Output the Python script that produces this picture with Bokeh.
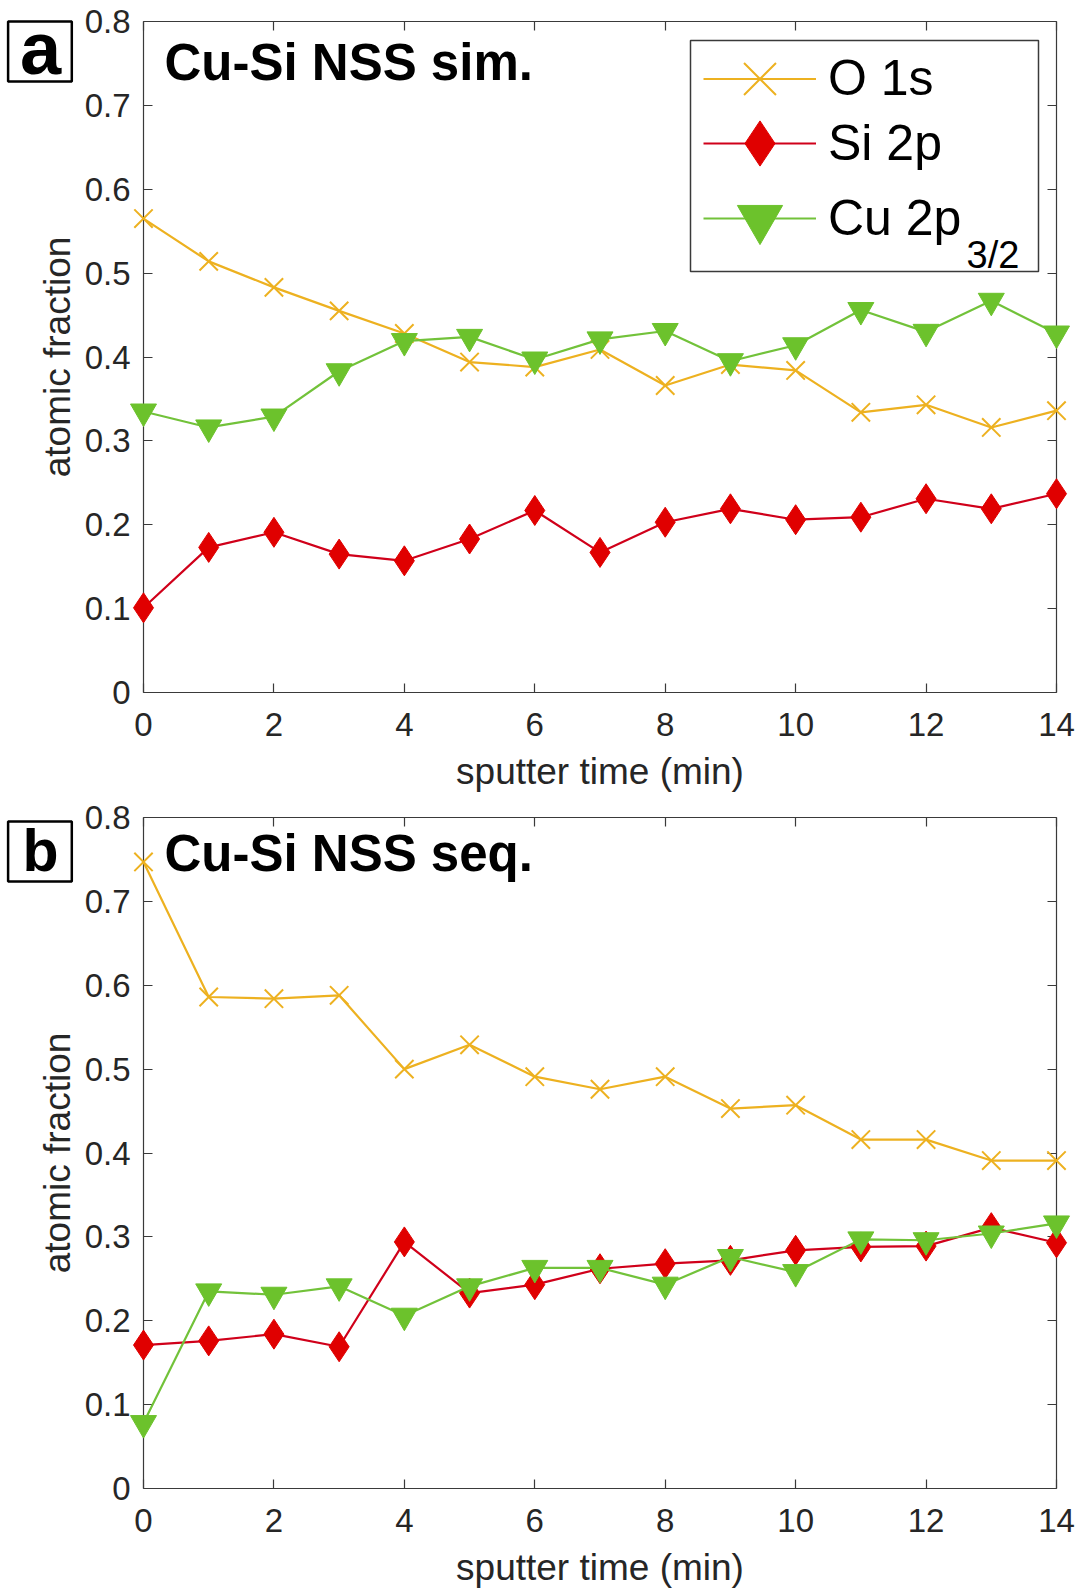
from bokeh.plotting import figure
from bokeh.models import (Range1d, LinearAxis, FixedTicker, Label, BoxAnnotation,
                          Legend, LegendItem, CustomLabelingPolicy)
from bokeh.embed import file_html
from bokeh.resources import INLINE

# ---------------- data ----------------
TIME = list(range(15))

O1S_SIM = [0.565, 0.514, 0.483, 0.455, 0.428, 0.394, 0.388, 0.409, 0.366, 0.391, 0.384, 0.334, 0.343, 0.316, 0.336]
SI2P_SIM = [0.101, 0.173, 0.191, 0.165, 0.157, 0.183, 0.217, 0.167, 0.203, 0.219, 0.206, 0.209, 0.231, 0.219, 0.237]
CU2P_SIM = [0.335, 0.316, 0.329, 0.383, 0.419, 0.424, 0.397, 0.421, 0.431, 0.395, 0.414, 0.456, 0.430, 0.467, 0.428]

O1S_SEQ = [0.747, 0.586, 0.584, 0.588, 0.500, 0.529, 0.491, 0.476, 0.491, 0.453, 0.457, 0.416, 0.416, 0.391, 0.391]
SI2P_SEQ = [0.171, 0.176, 0.184, 0.169, 0.294, 0.233, 0.243, 0.262, 0.268, 0.272, 0.284, 0.288, 0.289, 0.311, 0.293]
CU2P_SEQ = [0.078, 0.235, 0.231, 0.241, 0.206, 0.241, 0.263, 0.263, 0.243, 0.276, 0.258, 0.297, 0.296, 0.304, 0.316]

XMIN, XMAX = 0, 14
YMIN, YMAX = 0, 0.8
XTICKS = [0, 2, 4, 6, 8, 10, 12, 14]
YTICKS = [0, 0.1, 0.2, 0.3, 0.4, 0.5, 0.6, 0.7, 0.8]
YTICK_LABELS = ["0", "0.1", "0.2", "0.3", "0.4", "0.5", "0.6", "0.7", "0.8"]

SERIES_NAMES = ["O 1s", "Si 2p", "Cu 2p"]
CU_SUBSCRIPT = "3/2"
PANEL_LETTERS = ["a", "b"]
PANEL_TITLES = ["Cu-Si NSS sim.", "Cu-Si NSS seq."]
X_LABEL = "sputter time (min)"
Y_LABEL = "atomic fraction"

# ---------------- layout / style ----------------
FONT = "Liberation Sans"
AXC = "#3a3a3a"
TXT = "#262626"
O_COL = "#EDB120"
SI_LINE = "#d0001a"
SI_FILL = "#e00000"
CU_LINE = "#72c23a"
CU_FILL = "#6cc22c"

W, H = 1076, 1588
X0_PX, X1_PX = 143, 1056                 # page x of t = XMIN / XMAX
PANEL_PX = [(21, 692), (817, 1488)]       # page y of YMAX / YMIN for panels a, b

ux = (X1_PX - X0_PX) / (XMAX - XMIN)
x_range = Range1d(XMIN - X0_PX / ux, XMAX + (W - X1_PX) / ux)


def y_range_for(top_px, bottom_px):
    uy = (bottom_px - top_px) / (YMAX - YMIN)
    return Range1d(YMIN - (H - bottom_px) / uy, YMAX + top_px / uy)


p = figure(width=W, height=H, frame_width=W, frame_height=H,
           x_range=x_range, y_range=y_range_for(*PANEL_PX[0]),
           x_axis_location=None, y_axis_location=None,
           output_backend="svg", toolbar_location=None, min_border=0)
p.extra_y_ranges = {"b": y_range_for(*PANEL_PX[1])}
p.grid.visible = False
p.outline_line_color = None
p.background_fill_color = "white"
p.border_fill_color = "white"


def sy(page_y):
    return H - page_y


def style_axis(ax, hidden):
    ax.axis_line_color = AXC
    ax.axis_line_width = 1.2
    ax.major_tick_line_color = AXC
    ax.major_tick_line_width = 1.2
    ax.major_tick_in = 9
    ax.major_tick_out = 0
    ax.minor_tick_line_color = None
    ax.level = "underlay"
    if hidden:
        ax.major_label_policy = CustomLabelingPolicy(code="return new Set()")
        ax.major_label_text_font_size = "1px"
        ax.major_label_standoff = 0
    else:
        ax.major_label_text_font = FONT
        ax.major_label_text_font_size = "33px"
        ax.major_label_text_color = TXT
        ax.axis_label_text_font = FONT
        ax.axis_label_text_font_size = "37px"
        ax.axis_label_text_font_style = "normal"
        ax.axis_label_text_color = TXT


def add_axes(rname, first):
    left = LinearAxis(y_range_name=rname, fixed_location=XMIN, bounds=(YMIN, YMAX),
                      ticker=FixedTicker(ticks=YTICKS), axis_label=Y_LABEL,
                      major_label_overrides={t: l for t, l in zip(YTICKS, YTICK_LABELS)})
    style_axis(left, False)
    left.major_label_standoff = 13
    left.axis_label_standoff = 4
    p.add_layout(left, "left")

    right = LinearAxis(y_range_name=rname, fixed_location=XMAX, bounds=(YMIN, YMAX),
                       ticker=FixedTicker(ticks=YTICKS))
    style_axis(right, True)
    p.add_layout(right, "right")

    bottom = LinearAxis(y_range_name=rname, fixed_location=YMIN, bounds=(XMIN, XMAX),
                        ticker=FixedTicker(ticks=XTICKS), axis_label=X_LABEL)
    style_axis(bottom, False)
    bottom.major_label_standoff = 20
    bottom.axis_label_standoff = 12
    p.add_layout(bottom, "below")

    top = LinearAxis(y_range_name=rname, fixed_location=YMAX, bounds=(XMIN, XMAX),
                     ticker=FixedTicker(ticks=XTICKS))
    style_axis(top, True)
    p.add_layout(top, "above")


def add_series(o, si, cu, rname):
    kw = {} if rname is None else {"y_range_name": rname}
    lo = p.line(TIME, o, line_color=O_COL, line_width=2.2, **kw)
    so = p.scatter(TIME, o, marker="x", size=26, line_color=O_COL, line_width=2, **kw)
    ls = p.line(TIME, si, line_color=SI_LINE, line_width=2.2, **kw)
    ss = p.scatter(TIME, si, marker="diamond", size=30, fill_color=SI_FILL,
                   line_color=SI_FILL, line_width=1, **kw)
    lc = p.line(TIME, cu, line_color=CU_LINE, line_width=2.2, **kw)
    sc = p.scatter(TIME, cu, marker="inverted_triangle", size=26, fill_color=CU_FILL,
                   line_color=CU_FILL, line_width=1, **kw)
    return (lo, so), (ls, ss), (lc, sc)


def add_decor(letter, title, box_top, letter_size, letter_y, title_y):
    p.add_layout(BoxAnnotation(left=7.6, right=71.3, top=sy(box_top), bottom=sy(box_top + 60),
                               left_units="screen", right_units="screen",
                               top_units="screen", bottom_units="screen",
                               fill_color=None, fill_alpha=0,
                               line_color="black", line_alpha=1, line_width=2.5,
                               level="overlay"))
    p.add_layout(Label(x=40, y=sy(letter_y), x_units="screen", y_units="screen",
                       text=letter, text_font=FONT, text_font_style="bold",
                       text_font_size=letter_size, text_align="center",
                       text_baseline="alphabetic", text_color="black"))
    p.add_layout(Label(x=164, y=sy(title_y), x_units="screen", y_units="screen",
                       text=title, text_font=FONT, text_font_style="bold",
                       text_font_size="51px", text_align="left",
                       text_baseline="alphabetic", text_color="black"))


add_axes("default", True)
add_axes("b", False)

ra = add_series(O1S_SIM, SI2P_SIM, CU2P_SIM, None)
add_series(O1S_SEQ, SI2P_SEQ, CU2P_SEQ, "b")

add_decor(PANEL_LETTERS[0], PANEL_TITLES[0], 21, "74px", 48, 62)
add_decor(PANEL_LETTERS[1], PANEL_TITLES[1], 821, "59px", 850, 853)

# legend: frame box + one single-item legend per row (lets the markers be large)
LEG_LEFT, LEG_RIGHT, LEG_TOP, LEG_BOTTOM = 690, 1038, 40, 271
p.add_layout(BoxAnnotation(left=LEG_LEFT, right=LEG_RIGHT, top=sy(LEG_TOP), bottom=sy(LEG_BOTTOM),
                           left_units="screen", right_units="screen",
                           top_units="screen", bottom_units="screen",
                           fill_color="white", fill_alpha=1,
                           line_color=AXC, line_alpha=1, line_width=1.5,
                           level="underlay"))
ROW_CENTERS = [78, 143, 218]
GLYPH_H = [115, 130, 130]
GLYPH_X0 = LEG_LEFT + 13
for i in range(3):
    gh = GLYPH_H[i]
    leg = Legend(items=[LegendItem(label=SERIES_NAMES[i], renderers=list(ra[i]))],
                 location=(GLYPH_X0, sy(ROW_CENTERS[i] + gh / 2)), margin=0, padding=0,
                 spacing=0, glyph_height=gh, glyph_width=113,
                 label_standoff=12, label_width=190,
                 label_text_font=FONT, label_text_font_size="50px",
                 label_text_color="black",
                 border_line_color=None, background_fill_alpha=0)
    p.add_layout(leg)
p.add_layout(Label(x=966, y=sy(254), x_units="screen", y_units="screen",
                   text=CU_SUBSCRIPT, text_font=FONT, text_font_size="38px",
                   text_align="left", text_baseline="alphabetic", text_color="black"))

open("out.html", "w").write(file_html(p, INLINE))
